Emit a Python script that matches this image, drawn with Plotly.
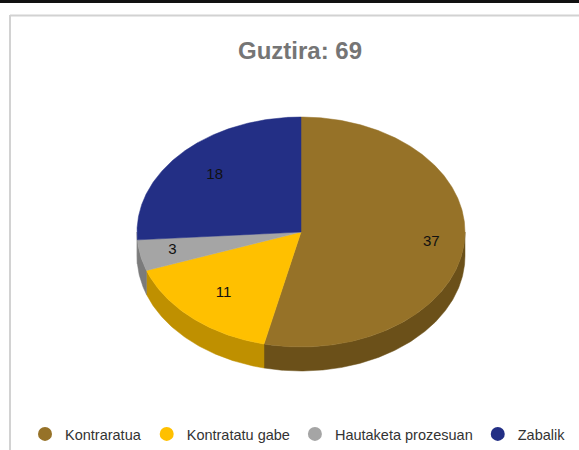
import math
import plotly.graph_objects as go

categories = ["Kontraratua", "Kontratatu gabe", "Hautaketa prozesuan", "Zabalik"]
values = [37, 11, 3, 18]
title_text = "Guztira: 69"

top_colors = ["#967228", "#FFC000", "#A5A5A5", "#232F85"]
side_colors = ["#6B5019", "#BF9000", "#7B7B7B", "#7B7B7B"]
label_radius = [0.80, 0.71, 0.80, 0.72]

W, H = 579, 450
CX, CY, RX, RY, DEPTH = 301, 232, 164, 115, 24
FONT = "Liberation Sans, Arial, sans-serif"


def pt(angle, dy=0.0, r=1.0):
    return CX + RX * r * math.sin(angle), CY - RY * r * math.cos(angle) + dy


def arc(a0, a1, dy=0.0):
    n = max(2, int(abs(a1 - a0) / 0.01))
    return [pt(a0 + (a1 - a0) * i / n, dy) for i in range(n + 1)]


def poly(points, color):
    return go.Scatter(
        x=[p[0] for p in points] + [points[0][0]],
        y=[p[1] for p in points] + [points[0][1]],
        mode="lines", fill="toself", fillcolor=color,
        line=dict(color=color, width=0.5),
        hoverinfo="skip", showlegend=False,
    )


total = sum(values)
starts, cum = [], 0
for v in values:
    starts.append(cum / total * 2 * math.pi)
    cum += v
ends = starts[1:] + [2 * math.pi]

fig = go.Figure()

# extruded side, only the front half of the rim is visible
for a0, a1, c in zip(starts, ends, side_colors):
    lo, hi = max(a0, math.pi / 2), min(a1, 3 * math.pi / 2)
    if hi > lo:
        fig.add_trace(poly(arc(lo, hi) + arc(hi, lo, DEPTH), c))

# top faces
for a0, a1, c in zip(starts, ends, top_colors):
    fig.add_trace(poly([(CX, CY)] + arc(a0, a1), c))

# value labels
lx, ly = [], []
for a0, a1, r in zip(starts, ends, label_radius):
    x, y = pt((a0 + a1) / 2, r=r)
    lx.append(x)
    ly.append(y)
fig.add_trace(go.Scatter(
    x=lx, y=ly, mode="text", text=[str(v) for v in values],
    textfont=dict(family=FONT, size=15, color="#111111"),
    hoverinfo="skip", showlegend=False,
))

# legend entries
for name, c in zip(categories, top_colors):
    fig.add_trace(go.Scatter(
        x=[None], y=[None], mode="markers", name=name,
        marker=dict(color=c, size=14, symbol="circle"),
    ))

shapes = [
    dict(type="rect", xref="x", yref="y", x0=0, x1=W, y0=0, y1=3,
         fillcolor="#111111", line_width=0, layer="below"),
    dict(type="line", xref="x", yref="y", x0=10, x1=10, y0=15, y1=H,
         line=dict(color="#D2D2D2", width=2), layer="below"),
    dict(type="line", xref="x", yref="y", x0=10, x1=W, y0=15.5, y1=15.5,
         line=dict(color="#D2D2D2", width=2), layer="below"),
]

fig.update_layout(
    width=W, height=H, autosize=False,
    margin=dict(l=0, r=0, t=0, b=0),
    paper_bgcolor="white", plot_bgcolor="white",
    xaxis=dict(range=[0, W], visible=False, fixedrange=True),
    yaxis=dict(range=[H, 0], visible=False, fixedrange=True),
    shapes=shapes,
    title=dict(text="<b>" + title_text + "</b>", x=300 / W, y=1 - 51 / H,
               xanchor="center", yanchor="middle",
               font=dict(family=FONT, size=24, color="#757575")),
    legend=dict(orientation="h", x=25 / W, y=1 - 434 / H, xanchor="left", yanchor="middle",
                font=dict(family=FONT, size=14.5, color="#333333"),
                bgcolor="rgba(0,0,0,0)", itemclick=False, itemdoubleclick=False),
)

fig.write_html("out.html", config=dict(displayModeBar=False),
               post_script="document.body.style.margin='0';document.body.style.overflow='hidden';")
